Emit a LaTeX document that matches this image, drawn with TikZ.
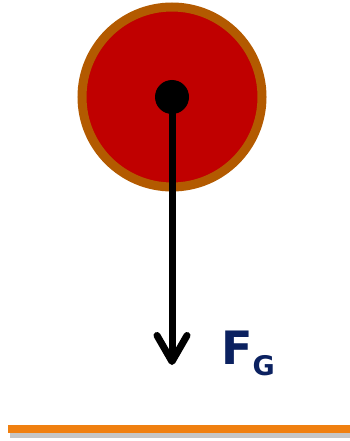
\documentclass[tikz,border=0pt]{standalone}
\usepackage{fontspec}
\setmainfont{DejaVu Sans}
\usetikzlibrary{arrows.meta}
\definecolor{ballred}{HTML}{C00000}
\definecolor{ballrim}{HTML}{B35A00}
\definecolor{groundor}{HTML}{F08010}
\definecolor{navy}{HTML}{0B2160}
\tikzset{
  ball/.style={circle, fill=ballred, draw=ballrim, line width=9pt, minimum size=180pt, inner sep=0pt},
  center/.style={circle, fill=black, minimum size=34pt, inner sep=0pt},
  force/.style={line width=7pt, -{Straight Barb[length=26pt, width=30pt, line cap=round, line join=round]}},
  flabel/.style={text=navy, font=\bfseries\fontsize{46}{46}\selectfont, inner sep=0pt, anchor=base west},
  groundline/.style={draw=groundor, line width=8pt},
  groundshadow/.style={draw=gray, line width=6pt, opacity=0.45}
}
\begin{document}
\begin{tikzpicture}[x=1pt, y=-1pt]
\useasboundingbox (0,0) rectangle (350,441);
\node[ball] (ball) at (172,97) {};
\coordinate (tip) at (172,365);
\draw[force] (ball.center) -- (tip);
\node[center] (c) at (172,97) {};
\node[flabel] (fg) at (221,364) {F{\fontsize{27}{27}\selectfont\raisebox{-11pt}{G}}};
\coordinate (gl) at (8,428.5);
\coordinate (gr) at (350,428.5);
\coordinate (sl) at (10,435);
\coordinate (sr) at (350,435);
\draw[groundshadow] (sl) -- (sr);
\draw[groundline] (gl) -- (gr);
\end{tikzpicture}
\end{document}
